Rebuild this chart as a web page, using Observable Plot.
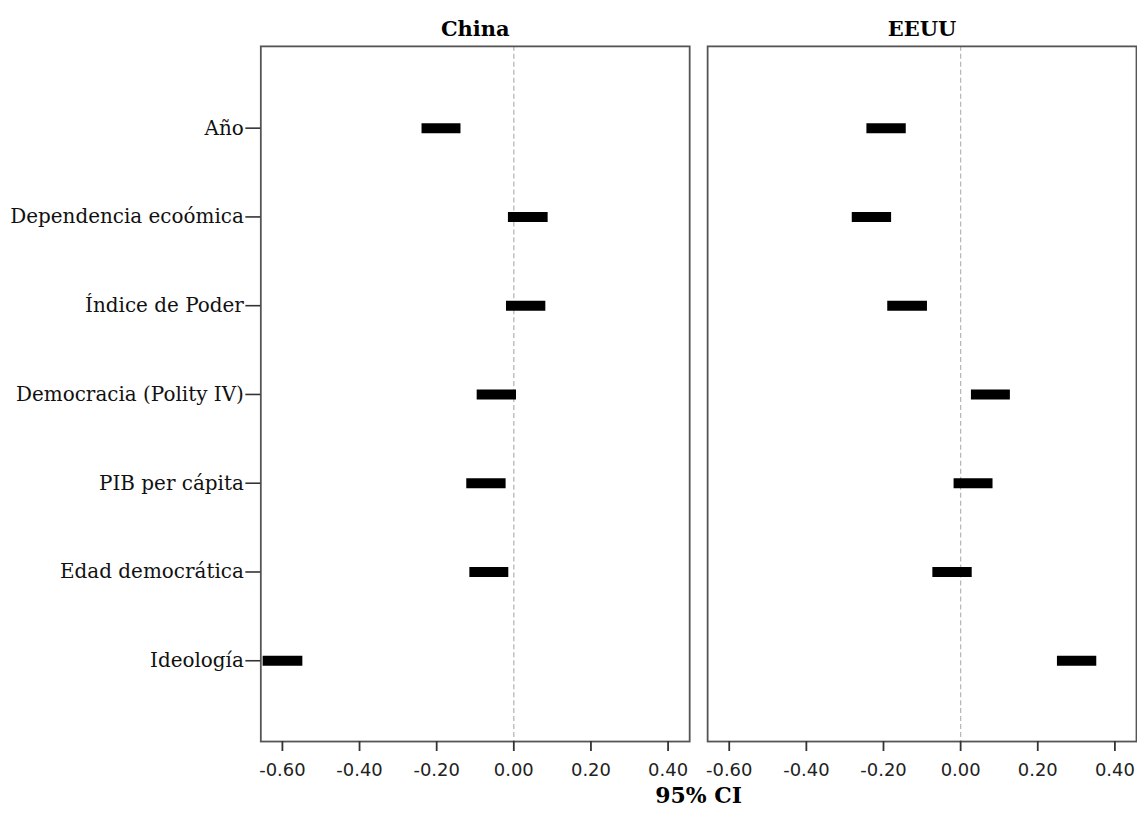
<!DOCTYPE html>
<html>
<head>
<meta charset="utf-8">
<script src="https://cdn.jsdelivr.net/npm/d3@7"></script>
<script src="https://cdn.jsdelivr.net/npm/@observablehq/plot@0.6"></script>
<style>
  html, body { margin: 0; padding: 0; background: #fff; overflow: hidden; }
  #chart svg { display: block; }
</style>
</head>
<body>
<div id="chart"></div>
<script>
const categories = ["Año", "Dependencia ecoómica", "Índice de Poder", "Democracia (Polity IV)", "PIB per cápita", "Edad democrática", "Ideología"];
const countries = ["China", "EEUU"];
const chinaLow  = [-0.238, -0.014, -0.019, -0.095, -0.122, -0.114, -0.650];
const chinaHigh = [-0.137,  0.089,  0.083,  0.007, -0.020, -0.013, -0.547];
const eeuuLow   = [-0.243, -0.281, -0.189,  0.028, -0.017, -0.072,  0.251];
const eeuuHigh  = [-0.141, -0.179, -0.086,  0.129,  0.084,  0.030,  0.353];
const xTicks = [-0.6, -0.4, -0.2, 0, 0.2, 0.4];

const data = [];
categories.forEach((c, i) => {
  data.push({country: "China", variable: c, low: chinaLow[i], high: chinaHigh[i]});
  data.push({country: "EEUU", variable: c, low: eeuuLow[i], high: eeuuHigh[i]});
});

const chart = Plot.plot({
  width: 1140,
  height: 833,
  marginLeft: 260,
  marginRight: 0,
  marginTop: 46,
  marginBottom: 90,
  style: {background: "#fff", fontFamily: "DejaVu Sans", color: "#111"},
  fx: {domain: countries, paddingInner: 0.04, paddingOuter: 0},
  x: {domain: [-0.656, 0.456]},
  y: {type: "point", domain: categories, padding: 0.885},
  marks: [
    Plot.ruleX([0], {stroke: "#b8b8b8", strokeWidth: 1.3, strokeDasharray: "5,3"}),
    Plot.ruleY(data, {fx: "country", y: "variable", x1: "low", x2: "high", stroke: "#000", strokeWidth: 10}),
    Plot.frame({stroke: "#555", strokeWidth: 1.8}),
    Plot.axisY({anchor: "left", tickSize: 15, tickPadding: 2, fontFamily: "DejaVu Serif", fontSize: 20, stroke: "#333", strokeWidth: 1.6, fill: "#111", label: null}),
    Plot.axisX({ticks: xTicks, tickFormat: d => d.toFixed(2), tickSize: 10, tickPadding: 12, fontSize: 18, stroke: "#333", strokeWidth: 1.8, fill: "#222", label: null}),
    Plot.axisFx({anchor: "top", tickSize: 0, tickPadding: 10, fontFamily: "DejaVu Serif", fontWeight: "bold", fontSize: 21, fill: "#000", label: null}),
    Plot.axisFx({anchor: "bottom", ticks: [], label: "95% CI", labelAnchor: "center", labelOffset: 62, fontFamily: "DejaVu Serif", fontWeight: "bold", fontSize: 22, fill: "#000"})
  ]
});
document.getElementById("chart").appendChild(chart);
</script>
</body>
</html>
